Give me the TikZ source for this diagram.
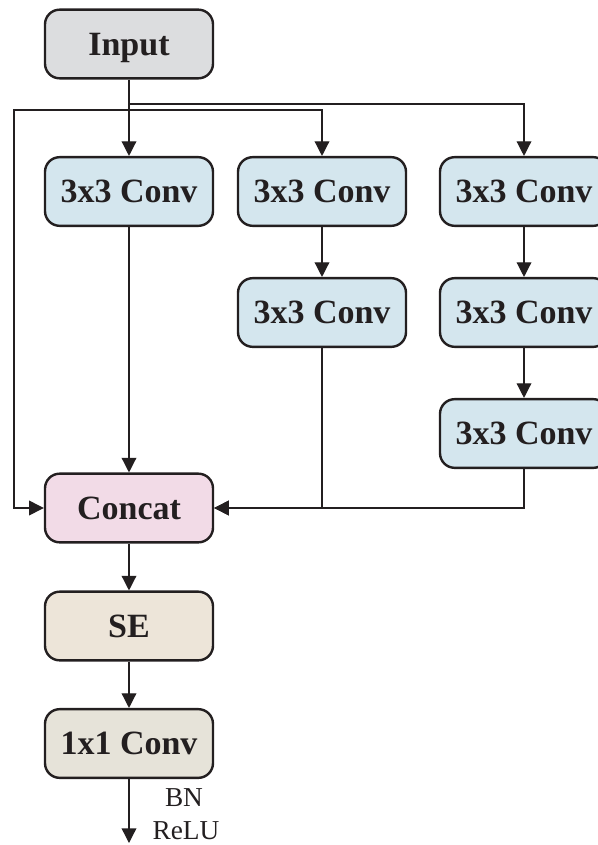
\documentclass[tikz,border=0pt]{standalone}
\usepackage{fontspec}
\setmainfont{Liberation Serif}
\usetikzlibrary{arrows.meta}

\definecolor{lineclr}{HTML}{231F20}
\definecolor{inclr}{HTML}{DCDDDF}
\definecolor{convclr}{HTML}{D4E6EE}
\definecolor{catclr}{HTML}{F2DBE7}
\definecolor{seclr}{HTML}{EDE5D9}
\definecolor{pwclr}{HTML}{E6E3D9}

\tikzset{every picture/.style={line width=0.75pt}}
\tikzset{
	blk/.style={draw=lineclr, line width=1.8pt, rounded corners=11pt,
		minimum width=126pt, minimum height=51.5pt, inner sep=0pt, text depth=0pt,
		font=\fontsize{25.5}{30}\selectfont\bfseries, text=lineclr},
	arr/.style={draw=lineclr, line width=1pt, -{Triangle[length=11pt,width=11pt]}},
	lbl/.style={inner sep=0.75pt, font=\fontsize{20.5}{24}\selectfont, text=lineclr}
}

\begin{document}
\begin{tikzpicture}[x=0.75pt,y=0.75pt,yscale=-1,xscale=1]
	\useasboundingbox (0,0) rectangle (598,845);
	
	%Shape: Input
	\node [blk, fill=inclr] (inp) at (129,44) {Input};
	%Shape: branch 1
	\node [blk, fill=convclr] (c11) at (129,191.5) {3x3 Conv};
	%Shape: branch 2
	\node [blk, fill=convclr] (c21) at (322,191.5) {3x3 Conv};
	\node [blk, fill=convclr] (c22) at (322,312.5) {3x3 Conv};
	%Shape: branch 3
	\node [blk, fill=convclr] (c31) at (524,191.5) {3x3 Conv};
	\node [blk, fill=convclr] (c32) at (524,312.5) {3x3 Conv};
	\node [blk, fill=convclr] (c33) at (524,433.5) {3x3 Conv};
	%Shape: merge and output
	\node [blk, fill=catclr] (cat) at (129,508) {Concat};
	\node [blk, fill=seclr] (se) at (129,626) {SE};
	\node [blk, fill=pwclr] (pw) at (129,743.5) {1x1 Conv};
	
	% split points under the input
	\coordinate (t1) at (129,104);
	\coordinate (t2) at (129,110);
	\coordinate (lft) at (14,110);
	\coordinate (out) at (129,843);
	
	%Straight Lines: fan out
	\draw [arr] (inp) -- (c11);
	\draw [arr] (t1) -| (c31);
	\draw [arr] (t2) -| (c21);
	\draw [arr] (t2) -- (lft) |- (cat);
	%Straight Lines: branches
	\draw [arr] (c21) -- (c22);
	\draw [arr] (c31) -- (c32);
	\draw [arr] (c32) -- (c33);
	\draw [arr] (c11) -- (cat);
	\draw [arr] (c22) |- (cat);
	\draw [arr] (c33) |- (cat);
	%Straight Lines: tail
	\draw [arr] (cat) -- (se);
	\draw [arr] (se) -- (pw);
	\draw [arr] (pw) -- (out);
	
	% Text Node
	\node [lbl] (bn) at (184,798) {BN};
	% Text Node
	\node [lbl] (relu) at (186,831) {ReLU};
	
\end{tikzpicture}
\end{document}
